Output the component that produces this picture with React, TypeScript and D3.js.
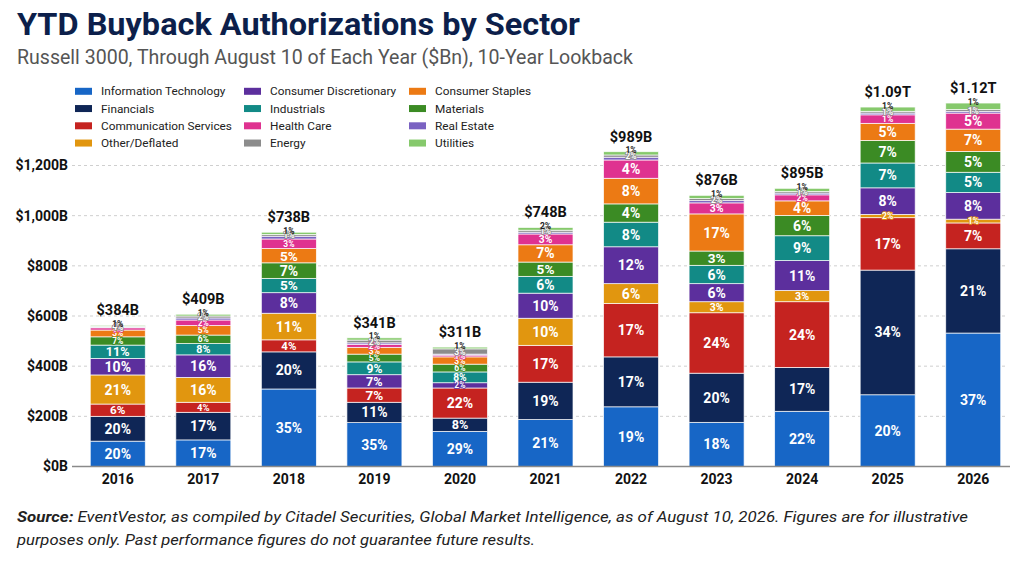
import React from "react";
import * as d3 from "d3";

// years on the x axis and the total label printed above each bar
const years = ["2016", "2017", "2018", "2019", "2020", "2021", "2022", "2023", "2024", "2025", "2026"];
const totalLabels = ["$384B", "$409B", "$738B", "$341B", "$311B", "$748B", "$989B", "$876B", "$895B", "$1.09T", "$1.12T"];

// sectors, bottom of the stack first
const sectors = [
  "Information Technology",
  "Financials",
  "Communication Services",
  "Other/Deflated",
  "Consumer Discretionary",
  "Industrials",
  "Materials",
  "Consumer Staples",
  "Health Care",
  "Real Estate",
  "Energy",
  "Utilities",
];
const sectorColors = [
  "#1766c6", "#0f2656", "#c52320", "#e1960f", "#5c2f9d", "#128a86",
  "#3b8b24", "#ec7a14", "#df3290", "#7a62c2", "#8c8c8c", "#86c96c",
];

// segment sizes as drawn ($Bn)
const itValues = [101, 106, 309, 175, 140, 187, 238, 176, 220, 286, 532];
const finValues = [99, 110, 148, 81, 53, 149, 199, 196, 175, 497, 336];
const commValues = [49, 40, 48, 57, 120, 147, 213, 241, 262, 209, 103];
const otherValues = [116, 99, 106, 0, 0, 108, 79, 44, 45, 13, 15];
const discValues = [66, 90, 82, 53, 21, 100, 147, 72, 119, 106, 106];
const indValues = [53, 45, 57, 51, 43, 67, 98, 73, 99, 99, 81];
const matValues = [33, 34, 62, 31, 31, 57, 73, 57, 81, 90, 83];
const stapValues = [27, 38, 57, 27, 29, 69, 102, 148, 58, 68, 89];
const hcValues = [9, 22, 38, 12, 7, 43, 73, 44, 24, 34, 64];
const reValues = [3, 8, 11, 6, 4, 7, 11, 9, 7, 7, 7];
const enValues = [3, 8, 7, 11, 21, 8, 9, 8, 6, 7, 7];
const utilValues = [4, 7, 9, 9, 7, 11, 13, 13, 13, 17, 26];

// share labels (%), 0 = no label printed
const itPct = [20, 17, 35, 35, 29, 21, 19, 18, 22, 20, 37];
const finPct = [20, 17, 20, 11, 8, 19, 17, 20, 17, 34, 21];
const commPct = [6, 4, 4, 7, 22, 17, 17, 24, 24, 17, 7];
const otherPct = [21, 16, 11, 0, 0, 10, 6, 3, 3, 2, 1];
const discPct = [10, 16, 8, 7, 2, 10, 12, 6, 11, 8, 8];
const indPct = [11, 8, 5, 9, 8, 6, 8, 6, 9, 7, 5];
const matPct = [7, 6, 7, 5, 6, 5, 4, 3, 6, 7, 5];
const stapPct = [3, 5, 5, 3, 3, 7, 8, 17, 4, 5, 7];
const hcPct = [1, 2, 3, 2, 1, 3, 4, 3, 2, 1, 5];
const rePct = [0, 0, 0, 0, 0, 0, 0, 0, 0, 0, 0];
const enPct = [4, 2, 1, 2, 3, 1, 2, 2, 1, 1, 1];
const utilPct = [1, 1, 1, 1, 1, 2, 1, 1, 1, 1, 1];

const yTicks = [0, 200, 400, 600, 800, 1000, 1200];

const valueSets = [itValues, finValues, commValues, otherValues, discValues, indValues, matValues, stapValues, hcValues, reValues, enValues, utilValues];
const pctSets = [itPct, finPct, commPct, otherPct, discPct, indPct, matPct, stapPct, hcPct, rePct, enPct, utilPct];

// legend is laid out column by column
const legendColumns = [
  [0, 1, 2, 3],
  [4, 5, 8, 10],
  [7, 6, 9, 11],
];

const W = 1024;
const H = 563;
const font = "Roboto, 'DejaVu Sans', sans-serif";

export default function App() {
  const rows = years.map((yr, i) => {
    const r: any = { year: yr };
    sectors.forEach((s, k) => (r[s] = valueSets[k][i]));
    return r;
  });
  const series = d3.stack<any>().keys(sectors)(rows);

  const x = d3
    .scaleBand<string>()
    .domain(years)
    .range([75, 1016])
    .paddingInner(0.357)
    .paddingOuter(0.1785);
  const y = d3.scaleLinear().domain([0, 1200]).range([466.5, 165.5]);
  const fmt = d3.format(",");
  const last = sectors.length - 1;

  return (
    <svg width={W} height={H} style={{ position: "absolute", left: 0, top: 0, background: "#fff" }} fontFamily={font}>
      <rect width={W} height={H} fill="#fff" />

      {/* heading */}
      <text x={17} y={35} fontSize={31} fontWeight={700} fill="#0c1f4b" textLength={563} lengthAdjust="spacingAndGlyphs">
        YTD Buyback Authorizations by Sector
      </text>
      <text x={17} y={63.5} fontSize={19.5} fill="#555" textLength={616} lengthAdjust="spacingAndGlyphs">
        Russell 3000, Through August 10 of Each Year ($Bn), 10-Year Lookback
      </text>

      {/* legend */}
      {legendColumns.map((col, c) =>
        col.map((k, r) => {
          const lx = [75, 244, 409][c];
          const ly = 91.3 + r * 17.25;
          return (
            <g key={`lg${k}`}>
              <rect x={lx} y={ly - 3.5} width={17} height={7} fill={sectorColors[k]} />
              <text x={lx + 26} y={ly} dy="0.35em" fontSize={11.8} fill="#222">
                {sectors[k]}
              </text>
            </g>
          );
        })
      )}

      {/* grid + y axis */}
      {yTicks.map((t) => (
        <g key={`yt${t}`}>
          {t > 0 && (
            <line x1={72} x2={1005} y1={y(t)} y2={y(t)} stroke="#cfcfcf" strokeWidth={1} strokeDasharray="3,3" />
          )}
          <text x={68} y={y(t)} dy="0.35em" textAnchor="end" fontSize={14} fontWeight={700} fill="#111">
            ${fmt(t)}B
          </text>
        </g>
      ))}

      {/* bars */}
      {series.map((s, k) => (
        <g key={`s${k}`} fill={sectorColors[k]}>
          {s.map((d, i) =>
            d[1] - d[0] > 0 ? (
              <rect
                key={i}
                x={x(years[i])}
                y={y(d[1])}
                width={x.bandwidth()}
                height={y(d[0]) - y(d[1])}
                stroke="rgba(255,255,255,0.85)"
                strokeWidth={0.8}
              />
            ) : null
          )}
        </g>
      ))}

      {/* segment labels */}
      {series.map((s, k) =>
        s.map((d, i) => {
          const pct = pctSets[k][i];
          if (!pct || d[1] - d[0] <= 0) return null;
          const cx = (x(years[i]) as number) + x.bandwidth() / 2;
          const h = y(d[0]) - y(d[1]);
          if (k === last) {
            return (
              <text key={`l${k}-${i}`} x={cx} y={y(d[1]) - 1.5} dy="0.35em" textAnchor="middle" fontSize={8.5} fontWeight={700} fill="#222">
                {pct}%
              </text>
            );
          }
          const small = h < 10;
          const fs = small ? 8.5 : Math.min(14, h * 0.95);
          return (
            <text
              key={`l${k}-${i}`}
              x={cx}
              y={(y(d[0]) + y(d[1])) / 2}
              dy="0.36em"
              textAnchor="middle"
              fontSize={fs}
              fontWeight={700}
              fill="#fff"
              stroke={small ? sectorColors[k] : "none"}
              strokeWidth={small ? 1.6 : 0}
              style={{ paintOrder: "stroke" }}
            >
              {pct}%
            </text>
          );
        })
      )}

      {/* totals */}
      {series[last].map((d, i) => (
        <text
          key={`tot${i}`}
          x={(x(years[i]) as number) + x.bandwidth() / 2}
          y={y(d[1]) - 10}
          textAnchor="middle"
          fontSize={14.5}
          fontWeight={700}
          fill="#111"
        >
          {totalLabels[i]}
        </text>
      ))}

      {/* x axis */}
      <line x1={72} x2={1010} y1={y(0)} y2={y(0)} stroke="#8a8a8a" strokeWidth={1.5} />
      {years.map((yr) => (
        <text key={`x${yr}`} x={(x(yr) as number) + x.bandwidth() / 2} y={479} dy="0.35em" textAnchor="middle" fontSize={14} fontWeight={700} fill="#111">
          {yr}
        </text>
      ))}

      {/* footnote */}
      <text x={17} y={522} fontSize={15} fontStyle="italic" fill="#222" textLength={951} lengthAdjust="spacingAndGlyphs">
        <tspan fontWeight={700}>Source:</tspan> EventVestor, as compiled by Citadel Securities, Global Market Intelligence, as of August 10, 2026. Figures are for illustrative
      </text>
      <text x={17} y={545} fontSize={15} fontStyle="italic" fill="#222" textLength={518} lengthAdjust="spacingAndGlyphs">
        purposes only. Past performance figures do not guarantee future results.
      </text>
    </svg>
  );
}
